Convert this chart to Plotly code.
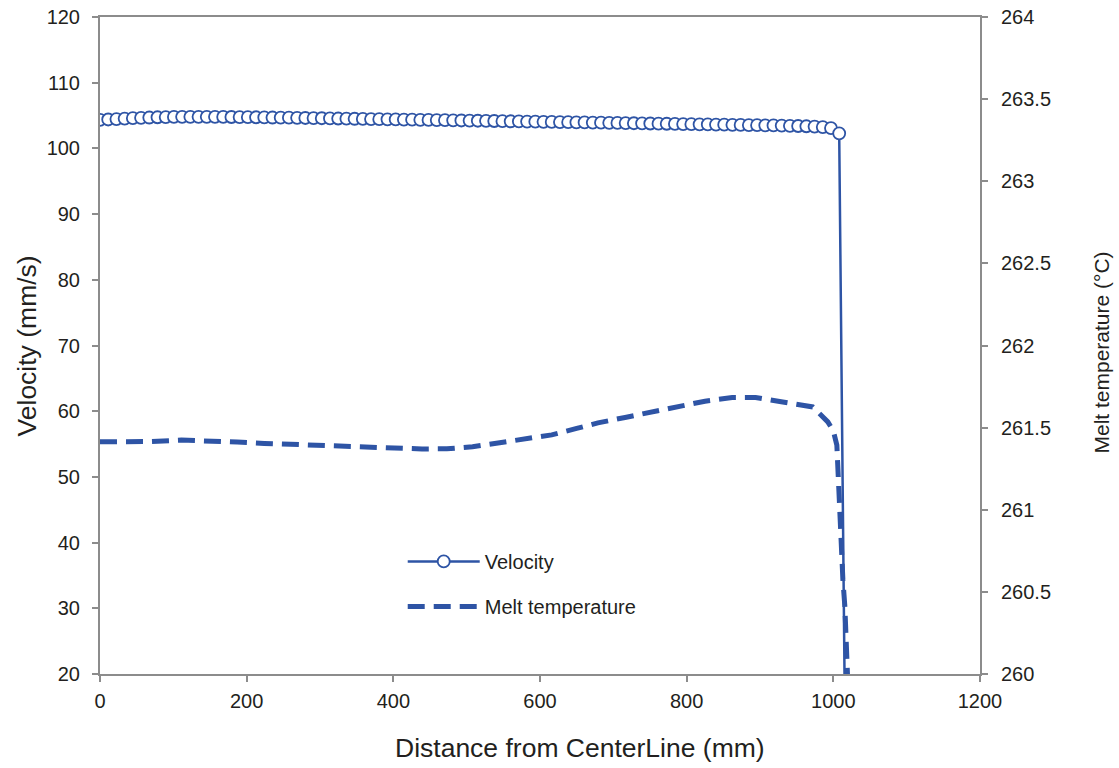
import plotly.graph_objects as go

# ---- data ----
vel_x = [0, 11.2, 22.4, 33.6, 44.8, 56, 67.2, 78.4, 89.6, 100.8, 112, 123.2, 134.4, 145.6,
         156.8, 168, 179.2, 190.4, 201.6, 212.8, 224, 235.2, 246.4, 257.6, 268.8, 280,
         291.2, 302.4, 313.6, 324.8, 336, 347.2, 358.4, 369.6, 380.8, 392, 403.2, 414.4,
         425.6, 436.8, 448, 459.2, 470.4, 481.6, 492.8, 504, 515.2, 526.4, 537.6, 548.8,
         560, 571.2, 582.4, 593.6, 604.8, 616, 627.2, 638.4, 649.6, 660.8, 672, 683.2,
         694.4, 705.6, 716.8, 728, 739.2, 750.4, 761.6, 772.8, 784, 795.2, 806.4, 817.6,
         828.8, 840, 851.2, 862.4, 873.6, 884.8, 896, 907.2, 918.4, 929.6, 940.8, 952,
         963.2, 974.4, 985.6, 996.8, 1008, 1017]
vel_y = [104.35, 104.4, 104.47, 104.54, 104.6, 104.66, 104.7, 104.74, 104.77, 104.79, 104.8,
         104.81, 104.81, 104.81, 104.8, 104.79, 104.78, 104.77, 104.76, 104.74, 104.72, 104.7,
         104.69, 104.67, 104.65, 104.63, 104.61, 104.59, 104.57, 104.55, 104.53, 104.51,
         104.49, 104.47, 104.45, 104.43, 104.41, 104.39, 104.37, 104.35, 104.33, 104.31,
         104.29, 104.27, 104.25, 104.23, 104.21, 104.19, 104.17, 104.15, 104.13, 104.11,
         104.09, 104.07, 104.05, 104.03, 104.01, 103.99, 103.97, 103.95, 103.93, 103.91,
         103.89, 103.87, 103.85, 103.83, 103.81, 103.79, 103.77, 103.75, 103.73, 103.71,
         103.69, 103.67, 103.65, 103.63, 103.61, 103.59, 103.57, 103.55, 103.53, 103.51,
         103.49, 103.47, 103.44, 103.41, 103.37, 103.32, 103.25, 103.1, 102.3, 0]

temp_x = [0, 67, 111, 152, 187, 224, 261, 292, 333, 372, 404, 439, 473, 508, 545, 579, 616,
          650, 679, 716, 753, 789, 825, 862, 894, 931, 972, 992.5, 1000, 1004.8, 1006.1,
          1008.9, 1010.2, 1011.6, 1013, 1015.7, 1017, 1018.4, 1021]
temp_y = [261.414, 261.415, 261.424, 261.42, 261.412, 261.404, 261.398, 261.392, 261.388,
          261.384, 261.378, 261.37, 261.371, 261.384, 261.408, 261.432, 261.456, 261.495,
          261.529, 261.562, 261.594, 261.63, 261.661, 261.683, 261.683, 261.656, 261.626,
          261.535, 261.48, 261.394, 261.242, 261.079, 260.921, 260.74, 260.576, 260.412,
          260.255, 260.109, 259.8]

x_ticks = [0, 200, 400, 600, 800, 1000, 1200]
y_ticks = [20, 30, 40, 50, 60, 70, 80, 90, 100, 110, 120]
y2_ticks = [260, 260.5, 261, 261.5, 262, 262.5, 263, 263.5, 264]
y2_labels = ["260", "260.5", "261", "261.5", "262", "262.5", "263", "263.5", "264"]

BLUE = "rgb(46,84,165)"
AXIS = "rgb(140,140,140)"
TXT = "rgb(35,31,32)"
FONT = "Liberation Sans, Arial, sans-serif"

fig = go.Figure()
fig.add_trace(go.Scatter(
    x=vel_x, y=vel_y, name="Velocity", mode="lines+markers", legendgroup="a",
    line=dict(color=BLUE, width=2.5),
    marker=dict(symbol="circle", size=12, color="white", line=dict(color=BLUE, width=1.8)),
))
fig.add_trace(go.Scatter(
    x=temp_x, y=temp_y, name="Melt temperature", mode="lines", yaxis="y2", legendgroup="b",
    line=dict(color=BLUE, width=5, dash="17px,9px"),
))

axis_common = dict(showgrid=False, zeroline=False, showline=True, linecolor=AXIS,
                   linewidth=2, ticks="outside", ticklen=6, tickwidth=1.5,
                   tickcolor=AXIS, tickfont=dict(size=20, color=TXT), automargin=False)

fig.update_layout(
    width=1119, height=768,
    margin=dict(l=100, r=139, t=17, b=94),
    plot_bgcolor="white", paper_bgcolor="white",
    font=dict(family=FONT, color=TXT, size=20),
    xaxis=dict(range=[0, 1200], tickvals=x_ticks, mirror=True, ticklabelstandoff=2,
               **axis_common),
    yaxis=dict(range=[20, 120], tickvals=y_ticks, ticklabelstandoff=8, **axis_common),
    yaxis2=dict(range=[260, 264], tickvals=y2_ticks, ticktext=y2_labels, overlaying="y",
                side="right", ticklabelstandoff=9, **axis_common),
    showlegend=True,
    legend=dict(x=0.344, y=0.201, xanchor="left", yanchor="top", bgcolor="rgba(0,0,0,0)",
                font=dict(size=20, color=TXT), tracegroupgap=16, itemwidth=72),
    annotations=[
        dict(text="Distance from CenterLine (mm)", xref="paper", yref="paper",
             x=0.545, y=-0.112, xanchor="center", yanchor="middle", showarrow=False,
             font=dict(size=26.5, color=TXT)),
        dict(text="Velocity (mm/s)", xref="paper", yref="paper", textangle=-90,
             x=-0.083, y=0.5, xanchor="center", yanchor="middle", showarrow=False,
             font=dict(size=26.5, color=TXT)),
        dict(text="Melt temperature (°C)", xref="paper", yref="paper", textangle=-90,
             x=1.138, y=0.49, xanchor="center", yanchor="middle", showarrow=False,
             font=dict(size=21, color=TXT)),
    ],
)

fig.write_html("out.html")
